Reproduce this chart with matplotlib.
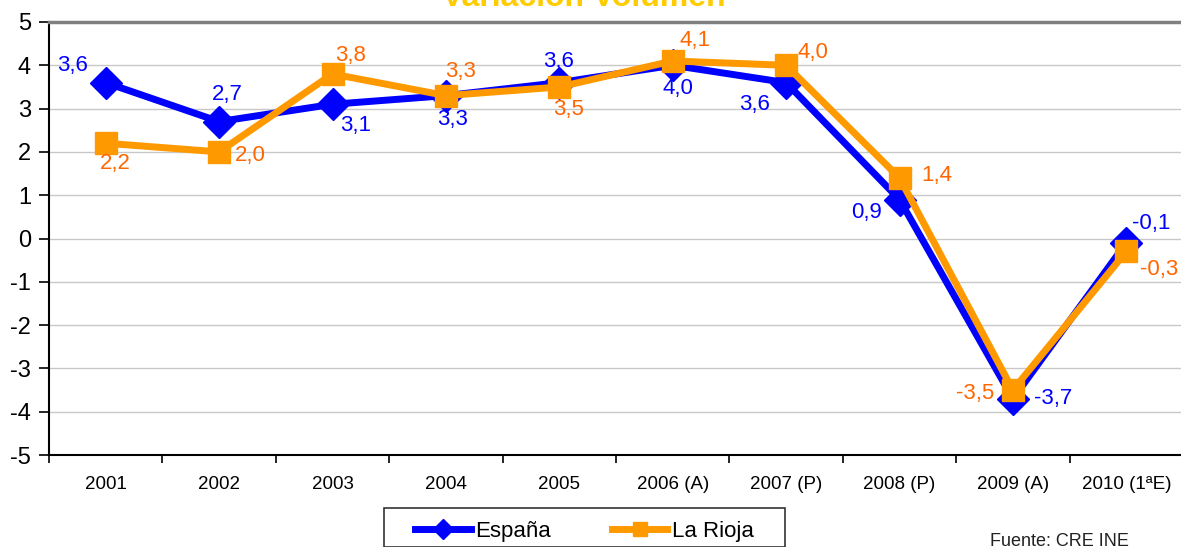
"""
Variación Volumen: España vs La Rioja
"""

import matplotlib
matplotlib.use('Agg')
import matplotlib.pyplot as plt
from matplotlib.patches import Rectangle
import numpy as np

plt.rcParams['font.family'] = ['Liberation Sans', 'DejaVu Sans']
plt.rcParams['axes.unicode_minus'] = False

# data
years = ['2001', '2002', '2003', '2004', '2005', '2006 (A)', '2007 (P)',
         '2008 (P)', '2009 (A)', '2010 (1ªE)']
espana = [3.6, 2.7, 3.1, 3.3, 3.6, 4.0, 3.6, 0.9, -3.7, -0.1]
rioja = [2.2, 2.0, 3.8, 3.3, 3.5, 4.1, 4.0, 1.4, -3.5, -0.3]

# label offsets (pixels) relative to each point
esp_off = [(-33, 17), (8, 27), (23, -21), (7, -24), (-1, 21), (5, -23),
           (-32, -22), (-33, -13), (40, 0), (25, 19)]
rio_off = [(10, -20), (31, -4), (18, 18), (15, 24), (9, -23), (22, 20),
           (27, 13), (37, 2), (-38, -3), (33, -18)]

BLUE = '#0000FF'
ORANGE = '#FF9900'
ORANGE_TXT = '#FF6600'

W, H = 1181, 547
fig = plt.figure(figsize=(W / 100, H / 100), dpi=100)
ax = fig.add_axes([49 / W, 1 - 455 / H, 1134 / W, 433 / H])

x = np.arange(len(years)) + 0.5
ax.plot(x, espana, color=BLUE, lw=5, marker='D', ms=16, zorder=3,
        label='España', solid_joinstyle='miter')
ax.plot(x, rioja, color=ORANGE, lw=5, marker='s', ms=16, zorder=4,
        label='La Rioja', solid_joinstyle='miter')

px2pt = 72 / 100
for xi, v, (dx, dy) in zip(x, espana, esp_off):
    ax.annotate(f'{v:.1f}'.replace('.', ','), (xi, v),
                xytext=(dx * px2pt, dy * px2pt), textcoords='offset points',
                ha='center', va='center', fontsize=16, color=BLUE, zorder=6)
for xi, v, (dx, dy) in zip(x, rioja, rio_off):
    ax.annotate(f'{v:.1f}'.replace('.', ','), (xi, v),
                xytext=(dx * px2pt, dy * px2pt), textcoords='offset points',
                ha='center', va='center', fontsize=16, color=ORANGE_TXT,
                zorder=6)

# axes
ax.set_xlim(0, len(years))
ax.set_ylim(-5, 5)
ax.set_yticks(np.arange(-5, 6, 1))
ax.set_yticklabels([str(t) for t in range(-5, 6)])
ax.tick_params(axis='y', labelsize=17, length=7, width=1.2, pad=6)
ax.set_xticks(np.arange(0, len(years) + 1))
ax.set_xticklabels([])
ax.set_xticks(x, minor=True)
ax.set_xticklabels(years, minor=True)
ax.tick_params(axis='x', which='major', length=6, width=1.2)
ax.tick_params(axis='x', which='minor', length=0, labelsize=13.5, pad=15)

ax.grid(axis='y', color='#C8C8C8', lw=1)
ax.set_axisbelow(True)
ax.spines['left'].set_linewidth(1.5)
ax.spines['bottom'].set_linewidth(1.5)
ax.spines['top'].set_color('#808080')
ax.spines['top'].set_linewidth(2.5)
ax.spines['right'].set_color('#808080')

# title, mostly cut off at the top like the original
fig.text(584 / W, 1 - 6 / H, 'Variación Volumen', ha='center',
         va='baseline', fontsize=23, fontweight='bold', color='#FFCC00')

# legend: frame drawn separately so the padding matches
fig.patches.append(Rectangle((384 / W, 0), 401 / W, 1 - 508 / H,
                             transform=fig.transFigure, fill=False,
                             edgecolor='#333333', lw=1.2))
leg = fig.legend(loc='center left', bbox_to_anchor=(415 / W, 1 - 531 / H),
                 ncol=2, fontsize=16, frameon=False, handlelength=2.5,
                 columnspacing=2.75, markerscale=0.62, borderpad=0,
                 handletextpad=0.2, borderaxespad=0)

fig.text(990 / W, 1 - 546 / H, 'Fuente: CRE INE', ha='left',
         va='baseline', fontsize=13, color='#222222')

fig.savefig('out.png', dpi=100)
